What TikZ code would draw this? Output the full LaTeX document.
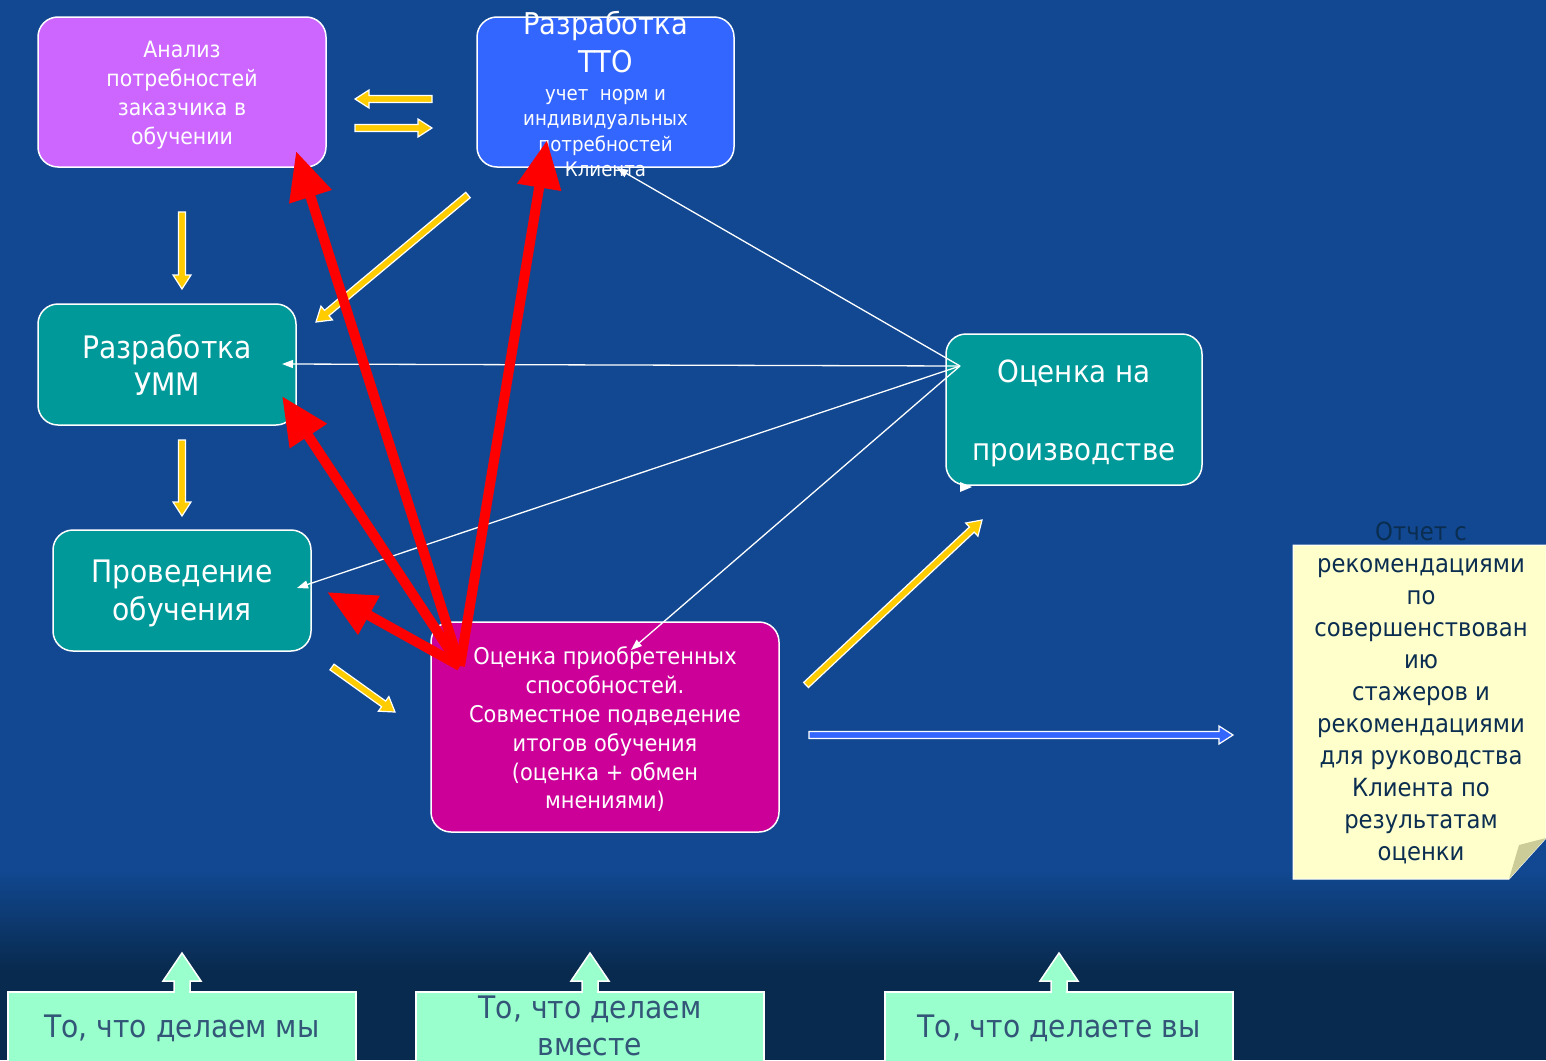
\documentclass[tikz,border=0pt]{standalone}
\usepackage{fontspec}
\setmainfont{DejaVu Sans}[FakeStretch=0.91]
\usetikzlibrary{arrows.meta,calc}
\definecolor{bgblue}{RGB}{17,72,145}
\definecolor{bgdark}{RGB}{8,42,78}
\definecolor{violetbox}{RGB}{204,102,255}
\definecolor{ttoblue}{RGB}{51,102,255}
\definecolor{tealbox}{RGB}{0,153,153}
\definecolor{magbox}{RGB}{204,0,153}
\definecolor{notebg}{RGB}{255,255,204}
\definecolor{notefold}{RGB}{204,204,153}
\definecolor{mint}{RGB}{153,255,204}
\definecolor{yarr}{RGB}{255,204,0}
\definecolor{redarr}{RGB}{255,0,0}
\definecolor{notetext}{RGB}{10,45,80}
\definecolor{mintext}{RGB}{50,85,120}
\newcommand\blockarr[3]{%
  \coordinate (bh) at ($(#2)!14pt!(#1)$);
  \filldraw[draw=white, line width=1.2pt, fill=#3, line join=miter]
    ($(#1)!3.5pt!90:(#2)$) -- ($(bh)!3.5pt!90:(#2)$) -- ($(bh)!9pt!90:(#2)$) -- (#2)
    -- ($(bh)!9pt!-90:(#2)$) -- ($(bh)!3.5pt!-90:(#2)$) -- ($(#1)!3.5pt!-90:(#2)$) -- cycle;}
\tikzset{
  box/.style={draw=white, line width=1.5pt, rounded corners=20pt, inner sep=0pt, align=center, text=white},
  redarrow/.style={draw=redarr, line width=10pt, -{Triangle[length=48pt,width=42pt]}},
  warrow/.style={draw=white, line width=1.3pt, -{Triangle[length=11pt,width=8pt]}},
  mintbox/.style={draw=white, line width=1.5pt, fill=mint},
  txt/.style={inner sep=0pt, align=center},
}
\begin{document}
\begin{tikzpicture}[x=1pt,y=-1pt]
\useasboundingbox (0,0) rectangle (1546,1060);
% background
\fill[bgblue] (0,0) rectangle (1546,1060);
\shade[top color=bgblue, bottom color=bgdark] (0,870) rectangle (1546,970);
\fill[bgdark] (0,970) rectangle (1546,1060);

% boxes
\node[box, fill=violetbox, minimum width=288pt, minimum height=150pt] (anal) at (182,92) {};
\node[txt, text=white, font=\fontsize{22.5}{29}\selectfont] (analtxt) at (182,95)
  {Анализ\\потребностей\\заказчика в\\обучении};
\node[box, fill=ttoblue, minimum width=257pt, minimum height=150pt] (tto) at (605.5,92) {};
\node[txt, text=white, font=\fontsize{30}{38}\selectfont] (ttotitle) at (605.5,42)
  {Разработка\\ТТО};
\node[txt, text=white, font=\fontsize{20}{25.3}\selectfont] (ttosub) at (605.5,133)
  {учет\ \ норм и\\индивидуальных\\потребностей\\Клиента};
\node[box, fill=tealbox, minimum width=258pt, minimum height=121pt] (umm) at (167,364.5) {};
\node[txt, text=white, font=\fontsize{31}{37}\selectfont] (ummtxt) at (167,364.5) {Разработка\\УММ};
\node[box, fill=tealbox, minimum width=258pt, minimum height=121pt] (prov) at (182,590.5) {};
\node[txt, text=white, font=\fontsize{31}{38}\selectfont] (provtxt) at (182,593) {Проведение\\обучения};
\node[box, fill=tealbox, minimum width=256pt, minimum height=151pt] (proizv) at (1074,409.5) {};
\node[txt, text=white, font=\fontsize{30.5}{39}\selectfont] (proizvtxt) at (1074,413.5) {Оценка на\\[39pt]производстве};
\node[box, fill=magbox, minimum width=348pt, minimum height=210pt] (ocenka) at (605,727) {};
\node[txt, text=white, font=\fontsize{23}{28.8}\selectfont] (ocenkatxt) at (605,729.5)
  {Оценка приобретенных\\способностей.\\Совместное подведение\\итогов обучения\\(оценка + обмен\\мнениями)};

% note
\filldraw[fill=notebg, draw=white, line width=1pt] (1293,545) -- (1546,545) -- (1546,838) -- (1509,879) -- (1293,879) -- cycle;
\fill[notefold] (1509,879) -- (1519,845) -- (1546,838) -- cycle;
\node[txt, text=notetext, font=\fontsize{25}{32}\selectfont] (notetxt) at (1421,693)
  {Отчет с\\рекомендациями\\по\\совершенствован\\ию\\стажеров и\\рекомендациями\\для руководства\\Клиента по\\результатам\\оценки};

% bottom boxes
\foreach \c/\nm in {182/we, 590/tog, 1059/you}{
  \fill[mint] (\c-8,995) -- (\c-8,981) -- (\c-19,981) -- (\c,953) -- (\c+19,981) -- (\c+8,981) -- (\c+8,995) -- cycle;
  \node[mintbox, minimum width=348pt, minimum height=100pt, anchor=north] (\nm) at (\c,991) {};
  \fill[mint] (\c-7.2,985) rectangle (\c+7.2,995);
  \draw[white, line width=1.5pt, line join=miter] (\c-8,991) -- (\c-8,981) -- (\c-19,981) -- (\c,953) -- (\c+19,981) -- (\c+8,981) -- (\c+8,991);
}
\node[txt, text=mintext, font=\fontsize{31}{38}\selectfont] (wetxt) at (182,1028) {То, что делаем мы};
\node[txt, text=mintext, font=\fontsize{31}{37}\selectfont] (togtxt) at (590,1025.5) {То, что делаем\\вместе};
\node[txt, text=mintext, font=\fontsize{31}{38}\selectfont] (youtxt) at (1059,1028) {То, что делаете вы};

% yellow / blue block arrows
\coordinate (y1s) at (432,99);  \coordinate (y1e) at (355,99);
\coordinate (y2s) at (355,128); \coordinate (y2e) at (432,128);
\coordinate (y3s) at (182,212); \coordinate (y3e) at (182,289);
\coordinate (y4s) at (182,440); \coordinate (y4e) at (182,516);
\coordinate (y5s) at (468,195); \coordinate (y5e) at (316,322);
\coordinate (y6s) at (332,667); \coordinate (y6e) at (395,712);
\coordinate (y7s) at (806,685); \coordinate (y7e) at (982,520);
\coordinate (b1s) at (809,735); \coordinate (b1e) at (1233,735);
\blockarr{y1s}{y1e}{yarr}
\blockarr{y2s}{y2e}{yarr}
\blockarr{y3s}{y3e}{yarr}
\blockarr{y4s}{y4e}{yarr}
\blockarr{y5s}{y5e}{yarr}
\blockarr{y6s}{y6e}{yarr}
\blockarr{y7s}{y7e}{yarr}
\blockarr{b1s}{b1e}{ttoblue}

% white thin arrows
\coordinate (wsrc) at (960,366);
\coordinate (wtto) at (617,168);
\coordinate (wumm) at (282,364);
\coordinate (wprov) at (297,588);
\coordinate (wocen) at (631,650);
\draw[warrow] (wsrc) -- (wtto);
\draw[warrow] (wsrc) -- (wumm);
\draw[warrow] (wsrc) -- (wprov);
\draw[warrow] (wsrc) -- (wocen);
\fill[white] (972,487) -- (960,482) -- (960,492) -- cycle;

% red arrows
\coordinate (rsrc) at (460,666);
\coordinate (ranal) at (296,151);
\coordinate (rtto) at (547,140);
\coordinate (rumm) at (282,396);
\coordinate (rprov) at (327,592);
\draw[redarrow] (rsrc) -- (ranal);
\draw[redarrow] (rsrc) -- (rtto);
\draw[redarrow] (rsrc) -- (rumm);
\draw[redarrow] (rsrc) -- (rprov);
\end{tikzpicture}
\end{document}
